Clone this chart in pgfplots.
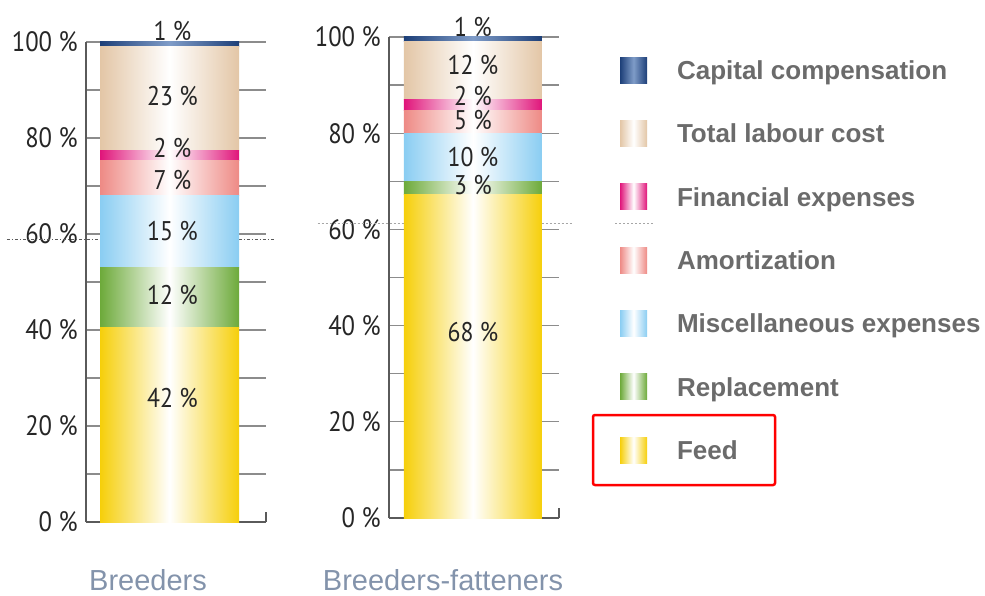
\documentclass[border=0pt]{standalone}
\usepackage{fontspec}
\setmainfont{Liberation Sans}
\newfontfamily\cond[FakeStretch=0.88]{PT Sans}
\usepackage{pgfplots}
\pgfplotsset{compat=1.18}

\definecolor{feedY}{HTML}{F6CF0A}
\definecolor{replG}{HTML}{6DAA3A}
\definecolor{miscB}{HTML}{8ACDF2}
\definecolor{amorR}{HTML}{EE8A85}
\definecolor{finM}{HTML}{E0157A}
\definecolor{labT}{HTML}{E3C6A6}
\definecolor{capB}{HTML}{1D3F78}
\definecolor{capL}{HTML}{7F9CC8}
\definecolor{axgray}{HTML}{5A5A5A}
\definecolor{gridgray}{HTML}{8C8C8C}
\definecolor{catgray}{HTML}{8393AB}
\definecolor{leggray}{HTML}{6B6B6B}
\definecolor{numdark}{HTML}{262626}

\pgfplotsset{
  panel/.style={
    scale only axis, anchor=south west,
    xmin=0, xmax=1, ymin=0, ymax=100,
    ybar stacked,
    axis x line*=bottom, axis y line*=left,
    axis line style={draw=axgray, line width=1.5pt},
    xtick=\empty,
    ytick={0,20,...,100}, minor ytick={10,30,...,90},
    ymajorgrids, yminorgrids,
    major tick length=0pt, minor tick length=0pt,
    grid style={draw=gridgray, line width=1.3pt},
    major grid style={draw=gridgray, line width=1.3pt},
    /pgf/number format/assume math mode=true,
    yticklabel={\pgfmathprintnumber{\tick} \%},
    yticklabel style={font=\cond\fontsize{28}{28}\selectfont, text=numdark,
      inner sep=0pt, xshift=-8pt},
    every node near coord/.append style={anchor=center,
      font=\cond\fontsize{27}{27}\selectfont, text=numdark},
    clip=false,
  },
  seg/.style 2 args={draw=none, left color=#1, right color=#1, middle color=#2,
    legend image code/.code={\path[left color=#1, right color=#1, middle color=#2]
      (0pt,-13pt) rectangle (27pt,13pt);}},
  lab/.style 2 args={nodes near coords={#1},
    every node near coord/.append style={yshift=#2}},
}

\begin{document}
\begin{tikzpicture}
\useasboundingbox (0,0) rectangle (985pt,595pt);

% Breeders
\begin{axis}[panel, at={(86pt,73pt)}, width=180pt, height=480pt, bar width=139pt,
  every node near coord/.append style={xshift=3pt}]
  \addplot[seg={feedY}{white}, lab={42 \%}{27pt}] coordinates {(0.464,40.6)};
  \addplot[seg={replG}{white}, lab={12 \%}{2pt}] coordinates {(0.464,12.5)};
  \addplot[seg={miscB}{white}, lab={15 \%}{0pt}] coordinates {(0.464,15.0)};
  \addplot[seg={amorR}{white}, lab={7 \%}{-2pt}] coordinates {(0.464,7.3)};
  \addplot[seg={finM}{white}, lab={2 \%}{7pt}] coordinates {(0.464,1.9)};
  \addplot[seg={labT}{white}, lab={23 \%}{3pt}] coordinates {(0.464,21.8)};
  \addplot[seg={capB}{capL}, lab={1 \%}{13pt}] coordinates {(0.464,0.9)};
  \draw[axgray, line width=1.5pt] (axis cs:1,0) -- ++(0pt,10pt);
  \draw[axgray, line width=0.9pt, dash pattern=on 3pt off 2pt on 1pt off 2pt]
    (axis cs:-0.439,58.96) -- (axis cs:1.05,58.96);
\end{axis}

% Breeders-fatteners
\begin{axis}[panel, at={(389pt,77pt)}, width=170pt, height=481pt, bar width=138pt,
  legend entries={Feed, Replacement, Miscellaneous expenses, Amortization,
    Financial expenses, Total labour cost, Capital compensation},
  reverse legend, legend cell align=left,
  legend style={at={(axis description cs:1.359,0.958)}, anchor=north west,
    draw=none, fill=none, inner sep=0pt, outer sep=0pt, row sep=37.3pt,
    font=\fontsize{26}{26}\selectfont\bfseries, text=leggray,
    nodes={inner sep=0pt, text height=18.6pt, text depth=0pt},
    /tikz/every odd column/.append style={column sep=30pt}}]
  \addplot[seg={feedY}{white}, lab={68 \%}{24pt}] coordinates {(0.494,67.2)};
  \addplot[seg={replG}{white}, lab={3 \%}{3pt}] coordinates {(0.494,2.7)};
  \addplot[seg={miscB}{white}, lab={10 \%}{0pt}] coordinates {(0.494,10.1)};
  \addplot[seg={amorR}{white}, lab={5 \%}{2pt}] coordinates {(0.494,4.8)};
  \addplot[seg={finM}{white}, lab={2 \%}{9pt}] coordinates {(0.494,2.3)};
  \addplot[seg={labT}{white}, lab={12 \%}{5pt}] coordinates {(0.494,12.0)};
  \addplot[seg={capB}{capL}, lab={1 \%}{12pt}] coordinates {(0.494,0.9)};
  \draw[axgray, line width=1.5pt] (axis cs:1,0) -- ++(0pt,10pt);
  \draw[gray!70, line width=0.8pt, dash pattern=on 2pt off 2pt]
    (axis cs:-0.42,61.3) -- (axis cs:1.08,61.3);
\end{axis}

\draw[gray!70, line width=0.8pt, dash pattern=on 2pt off 2pt] (615pt,372pt) -- (653pt,372pt);
\draw[red, line width=2.5pt, rounded corners=2pt] (593pt,110pt) rectangle (775pt,180pt);

\node[anchor=base, text=catgray, font=\fontsize{29}{29}\selectfont, inner sep=0pt]
  at (148pt,5pt) {Breeders};
\node[anchor=base, text=catgray, font=\fontsize{29}{29}\selectfont, inner sep=0pt]
  at (443pt,5pt) {Breeders-fatteners};
\end{tikzpicture}
\end{document}
